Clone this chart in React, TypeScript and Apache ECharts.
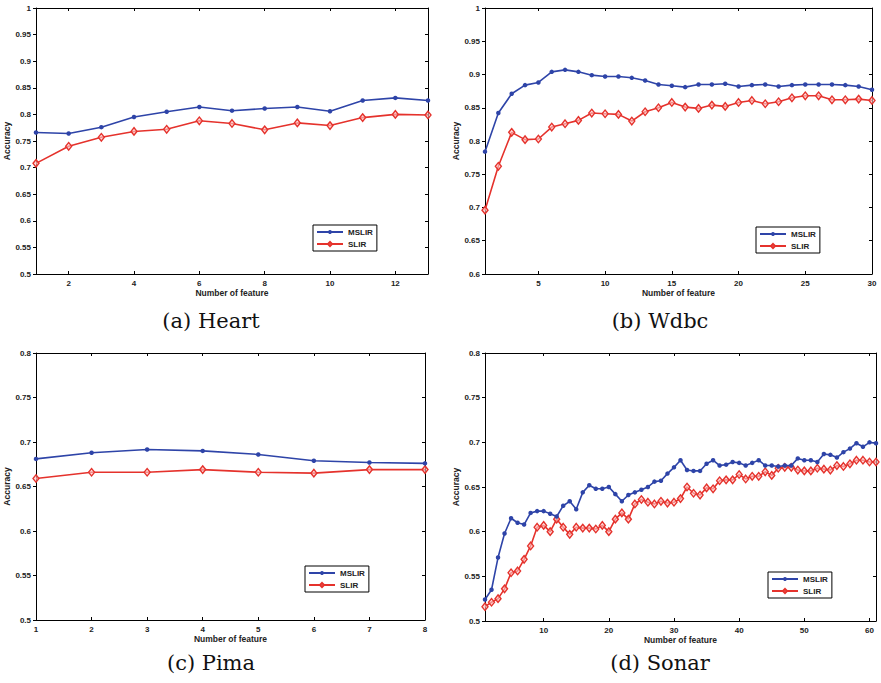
import React, { useEffect, useRef } from "react";
import * as echarts from "echarts";

const heartMSLIR = [0.766, 0.764, 0.776, 0.795, 0.805, 0.814, 0.807, 0.811, 0.814, 0.806, 0.826, 0.831, 0.826];
const heartSLIR = [0.708, 0.740, 0.757, 0.768, 0.772, 0.788, 0.783, 0.771, 0.784, 0.779, 0.794, 0.800, 0.799];

const wdbcMSLIR = [0.784, 0.842, 0.871, 0.884, 0.888, 0.904, 0.907, 0.904, 0.899, 0.897, 0.897, 0.895, 0.891, 0.885, 0.883,
  0.881, 0.885, 0.885, 0.886, 0.882, 0.884, 0.885, 0.882, 0.884, 0.885, 0.885, 0.885, 0.884, 0.882, 0.877];
const wdbcSLIR = [0.696, 0.762, 0.813, 0.802, 0.803, 0.821, 0.826, 0.831, 0.842, 0.841, 0.840, 0.830, 0.844, 0.850, 0.858,
  0.851, 0.849, 0.854, 0.852, 0.858, 0.861, 0.856, 0.859, 0.865, 0.868, 0.868, 0.862, 0.862, 0.863, 0.861];

const pimaMSLIR = [0.681, 0.688, 0.6915, 0.690, 0.686, 0.679, 0.677, 0.676];
const pimaSLIR = [0.659, 0.666, 0.666, 0.669, 0.666, 0.665, 0.669, 0.669];

const sonarMSLIR = [0.524, 0.535, 0.571, 0.598, 0.615, 0.610, 0.608, 0.621, 0.623, 0.623, 0.620, 0.617, 0.629, 0.634, 0.625,
  0.644, 0.652, 0.648, 0.648, 0.650, 0.642, 0.634, 0.641, 0.644, 0.647, 0.650, 0.656, 0.657, 0.665, 0.672,
  0.680, 0.669, 0.668, 0.668, 0.676, 0.680, 0.674, 0.675, 0.678, 0.677, 0.674, 0.677, 0.680, 0.674, 0.674,
  0.673, 0.674, 0.674, 0.682, 0.680, 0.680, 0.678, 0.687, 0.686, 0.683, 0.689, 0.693, 0.699, 0.695, 0.700, 0.699];
const sonarSLIR = [0.516, 0.521, 0.525, 0.536, 0.554, 0.556, 0.569, 0.584, 0.605, 0.607, 0.600, 0.614, 0.605, 0.597, 0.605,
  0.604, 0.604, 0.603, 0.607, 0.600, 0.614, 0.621, 0.614, 0.631, 0.636, 0.633, 0.631, 0.634, 0.632, 0.633,
  0.637, 0.650, 0.643, 0.641, 0.649, 0.648, 0.657, 0.658, 0.658, 0.664, 0.659, 0.662, 0.662, 0.667, 0.663,
  0.671, 0.672, 0.672, 0.669, 0.668, 0.668, 0.671, 0.670, 0.669, 0.674, 0.673, 0.676, 0.680, 0.680, 0.678, 0.678];

const captions = ["(a) Heart", "(b) Wdbc", "(c) Pima", "(d) Sonar"];
const xTicks = [
  [2, 4, 6, 8, 10, 12],
  [5, 10, 15, 20, 25, 30],
  [1, 2, 3, 4, 5, 6, 7, 8],
  [10, 20, 30, 40, 50, 60],
];
const xRanges = [[1, 13], [1, 30], [1, 8], [1, 61]];
const yRanges = [[0.5, 1], [0.6, 1], [0.5, 0.8], [0.5, 0.8]];
const seriesNames = ["MSLIR", "SLIR"];
const panels = [
  [heartMSLIR, heartSLIR],
  [wdbcMSLIR, wdbcSLIR],
  [pimaMSLIR, pimaSLIR],
  [sonarMSLIR, sonarSLIR],
];

const BLUE = "#2E44A8";
const RED = "#E5322C";
const FONT = "'Liberation Sans', Arial, sans-serif";

const grids = [
  { left: 36, top: 8, width: 392, height: 266 },
  { left: 485, top: 8, width: 387, height: 266 },
  { left: 36, top: 353, width: 389, height: 267 },
  { left: 485, top: 353, width: 391, height: 268 },
];
const legendPos = [
  { left: 313, top: 225 },
  { left: 756, top: 227 },
  { left: 305, top: 566 },
  { left: 768, top: 572 },
];
const captionPos = [
  { x: 211, y: 321 },
  { x: 660, y: 321 },
  { x: 211, y: 663 },
  { x: 660, y: 663 },
];

const fmtY = (v: number) => String(parseFloat(v.toFixed(2)));

export default function App() {
  const ref = useRef<HTMLDivElement>(null);
  useEffect(() => {
    if (!ref.current) return;
    const chart = echarts.init(ref.current, undefined, { renderer: "svg" });
    const xAxis: any[] = [];
    const yAxis: any[] = [];
    const series: any[] = [];
    const legend: any[] = [];
    const axisLine = { show: true, lineStyle: { color: "#000", width: 1 } };
    const labelStyle = { fontFamily: FONT, fontWeight: "bold", fontSize: 8, color: "#222" };
    panels.forEach((p, g) => {
      xAxis.push({
        type: "value", gridIndex: g, min: xRanges[g][0], max: xRanges[g][1], position: "bottom",
        axisLine, splitLine: { show: false },
        axisTick: { show: true, inside: true, length: 3, customValues: xTicks[g], lineStyle: { color: "#000" } },
        axisLabel: { ...labelStyle, margin: 5, customValues: xTicks[g] },
        name: "Number of feature", nameLocation: "middle", nameGap: 14,
        nameTextStyle: { fontFamily: FONT, fontWeight: "bold", fontSize: 8.5, color: "#222" },
      });
      xAxis.push({
        type: "value", gridIndex: g, min: xRanges[g][0], max: xRanges[g][1], position: "top",
        axisLine, splitLine: { show: false },
        axisTick: { show: true, inside: true, length: 3, customValues: xTicks[g], lineStyle: { color: "#000" } },
        axisLabel: { show: false },
      });
      yAxis.push({
        type: "value", gridIndex: g, min: yRanges[g][0], max: yRanges[g][1], interval: 0.05, position: "left",
        axisLine, splitLine: { show: false },
        axisTick: { show: true, inside: false, length: 3, lineStyle: { color: "#000" } },
        axisLabel: { ...labelStyle, margin: 5, formatter: fmtY },
        name: "Accuracy", nameLocation: "middle", nameGap: 24, nameRotate: 90,
        nameTextStyle: { fontFamily: FONT, fontWeight: "bold", fontSize: 8.5, color: "#222" },
      });
      yAxis.push({
        type: "value", gridIndex: g, min: yRanges[g][0], max: yRanges[g][1], interval: 0.05, position: "right",
        axisLine, splitLine: { show: false },
        axisTick: { show: true, inside: true, length: 3, lineStyle: { color: "#000" } },
        axisLabel: { show: false },
      });
      const [m, s] = p;
      series.push({
        type: "line", name: seriesNames[0], xAxisIndex: g * 2, yAxisIndex: g * 2,
        data: m.map((v, i) => [i + 1, v]),
        symbol: "circle", symbolSize: 4.5, showSymbol: true,
        lineStyle: { color: BLUE, width: 1.6 }, itemStyle: { color: BLUE },
        z: 3,
      });
      series.push({
        type: "line", name: seriesNames[1], xAxisIndex: g * 2, yAxisIndex: g * 2,
        data: s.map((v, i) => [i + 1, v]),
        symbol: "diamond", symbolSize: [6, 7.5], showSymbol: true,
        lineStyle: { color: RED, width: 1.6 },
        itemStyle: { color: "rgba(255,200,200,0.6)", borderColor: RED, borderWidth: 1.4 },
        z: 2,
      });
      legend.push({
        ...legendPos[g], orient: "vertical", data: seriesNames,
        backgroundColor: "#fff", borderColor: "#000", borderWidth: 1,
        padding: [3, 4, 3, 3], itemWidth: 26, itemHeight: 5, itemGap: 4,
        textStyle: { fontFamily: FONT, fontWeight: "bold", fontSize: 8, lineHeight: 8, color: "#222" },
        selectedMode: false,
      });
    });
    chart.setOption({
      animation: false,
      backgroundColor: "#fff",
      grid: grids.map((gr) => ({ ...gr, containLabel: false })),
      xAxis, yAxis, series, legend,
      graphic: captions.map((c, i) => ({
        type: "text", x: captionPos[i].x, y: captionPos[i].y,
        style: { text: c, fontFamily: "'DejaVu Serif', serif", fontSize: 21, fill: "#111", align: "center", verticalAlign: "middle" },
      })),
    });
    return () => chart.dispose();
  }, []);
  return <div ref={ref} style={{ position: "fixed", left: 0, top: 0, width: 881, height: 683, background: "#fff" }} />;
}
